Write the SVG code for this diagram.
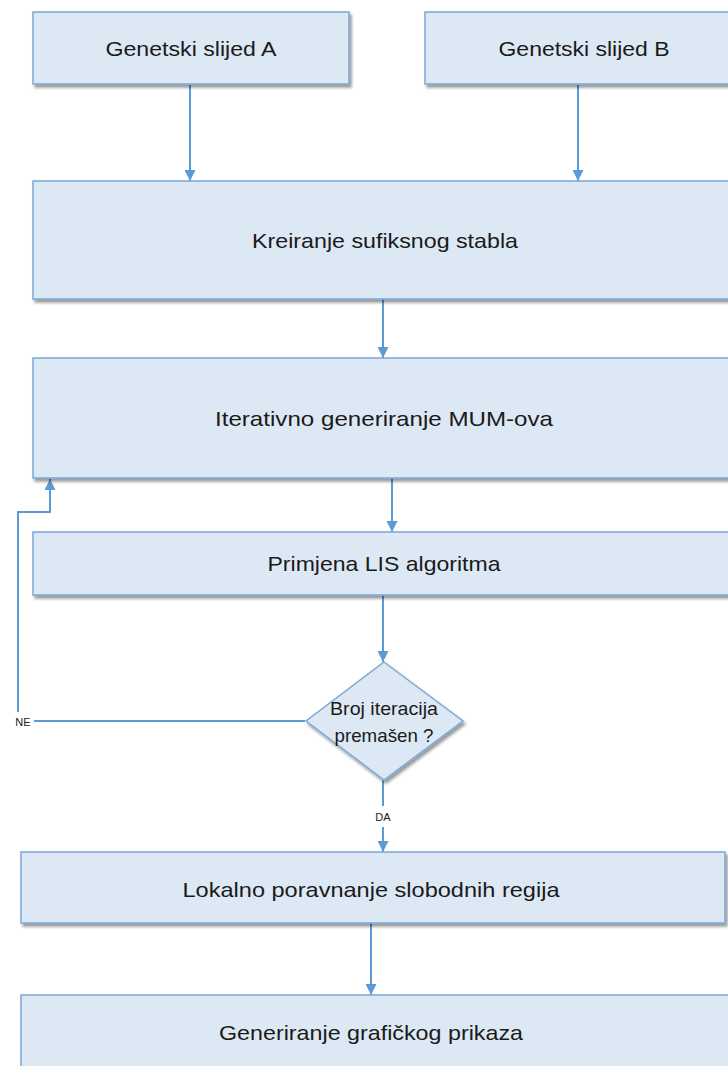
<svg xmlns="http://www.w3.org/2000/svg" width="728" height="1066" viewBox="0 0 728 1066">
<defs>
<filter id="sh" x="-5%" y="-10%" width="115%" height="130%">
<feDropShadow dx="2" dy="3" stdDeviation="1.8" flood-color="#000" flood-opacity="0.4"/>
</filter>
<marker id="ah" viewBox="0 0 10 10" refX="10" refY="5" markerWidth="11" markerHeight="11" markerUnits="userSpaceOnUse" orient="auto">
<path d="M0,0 L10,5 L0,10 Z" fill="#5b9bd5"/>
</marker>
</defs>
<style>
.box{fill:#dde8f5;stroke:#7ba7d7;stroke-width:1.5;filter:url(#sh)}
.t{font-family:"Liberation Sans","Open Sans",sans-serif;font-size:21px;fill:#1a1a1a;text-anchor:middle;dominant-baseline:central}
.d{font-size:19px}
.s{font-family:"Liberation Sans","Open Sans",sans-serif;font-size:11px;fill:#1a1a1a;text-anchor:middle;dominant-baseline:central}
.c{fill:none;stroke:#5b9bd5;stroke-width:2;marker-end:url(#ah)}
.cn{fill:none;stroke:#5b9bd5;stroke-width:2}
</style>
<rect width="728" height="1066" fill="#fff"/>
<g id="connectors">
<line class="c" x1="190" y1="85" x2="190" y2="181"/>
<line class="c" x1="578" y1="85" x2="578" y2="181"/>
<line class="c" x1="383" y1="299" x2="383" y2="358"/>
<line class="c" x1="392" y1="478" x2="392" y2="532"/>
<line class="c" x1="383" y1="595" x2="383" y2="662"/>
<line class="cn" x1="383" y1="780" x2="383" y2="806"/>
<line class="c" x1="383" y1="827" x2="383" y2="852"/>
<line class="c" x1="371" y1="923" x2="371" y2="995"/>
<polyline class="cn" points="305,721 34,721"/>
<polyline class="c" points="18,712 18,512 50,512 50,479"/>
<text class="s" x="23" y="722">NE</text>
<text class="s" x="383" y="817">DA</text>
</g>
<g id="n1"><rect class="box" x="33" y="12" width="316" height="72"/><text class="t" x="191" y="48" textLength="171" lengthAdjust="spacingAndGlyphs">Genetski slijed A</text></g>
<g id="n2"><rect class="box" x="425" y="12" width="310" height="72"/><text class="t" x="584" y="48" textLength="171" lengthAdjust="spacingAndGlyphs">Genetski slijed B</text></g>
<g id="n3"><rect class="box" x="33" y="181" width="702" height="118"/><text class="t" x="385" y="240" textLength="266" lengthAdjust="spacingAndGlyphs">Kreiranje sufiksnog stabla</text></g>
<g id="n4"><rect class="box" x="33" y="358" width="702" height="120"/><text class="t" x="384" y="418" textLength="338" lengthAdjust="spacingAndGlyphs">Iterativno generiranje MUM-ova</text></g>
<g id="n5"><rect class="box" x="33" y="532" width="702" height="63"/><text class="t" x="384" y="563" textLength="233" lengthAdjust="spacingAndGlyphs">Primjena LIS algoritma</text></g>
<g id="n6"><polygon class="box" points="384,662 463,721 384,780 306,721"/><text class="t d" x="384" y="708" textLength="108" lengthAdjust="spacingAndGlyphs">Broj iteracija</text><text class="t d" x="384" y="735" textLength="99" lengthAdjust="spacingAndGlyphs">premašen ?</text></g>
<g id="n7"><rect class="box" x="21" y="852" width="704" height="71"/><text class="t" x="371" y="889" textLength="377" lengthAdjust="spacingAndGlyphs">Lokalno poravnanje slobodnih regija</text></g>
<g id="n8"><rect class="box" x="21" y="995" width="714" height="80"/><text class="t" x="371" y="1032" textLength="304" lengthAdjust="spacingAndGlyphs">Generiranje grafičkog prikaza</text></g>
</svg>
